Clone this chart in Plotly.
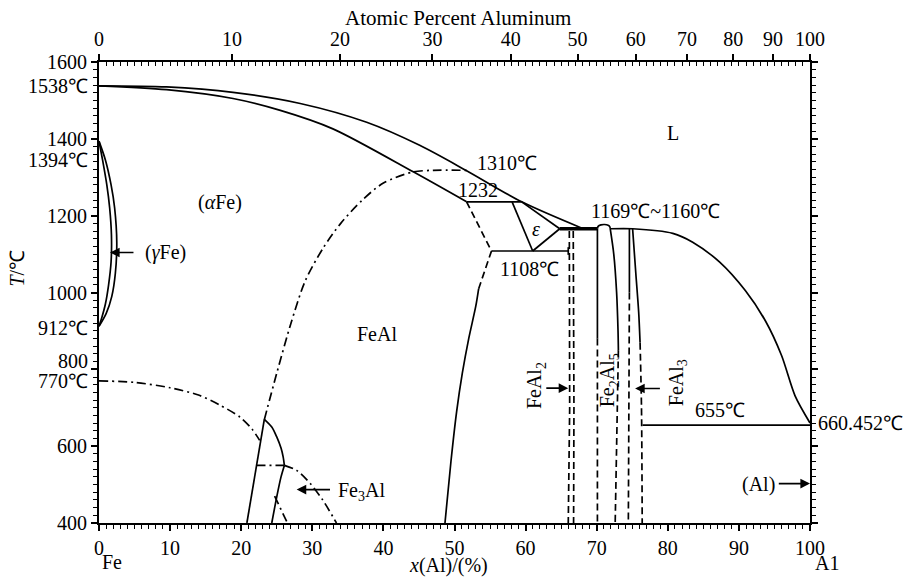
import plotly.graph_objects as go

# ---------------- data (x = Al content, %, T = temperature, °C) ----------------
liq_fe_x = [0, 9.5, 18.85, 28.3, 37.65, 45.1, 51.7, 59.45, 68.1]
liq_fe_T = [1538, 1535, 1521, 1492, 1443, 1383, 1317, 1236, 1166]

sol_fe_x = [0, 9.5, 18.85, 25.5, 32.9, 44.2, 51.7]
sol_fe_T = [1538, 1528, 1505, 1474, 1426, 1314, 1236]

liq_al_x = [71.9, 75.05, 80.7, 83.5, 87.3, 90.9, 93.7, 96.0, 97.9, 100]
liq_al_T = [1166, 1166, 1154, 1131, 1079, 1005, 927, 836, 731, 660.452]

gam_in_x = [0, 0.5, 1.1, 1.5, 1.75, 1.7, 1.35, 0.9, 0.4, 0]
gam_in_T = [1394, 1345, 1280, 1220, 1150, 1080, 1020, 970, 935, 912]
gam_out_x = [0, 0.9, 1.7, 2.2, 2.5, 2.3, 1.8, 1.0, 0]
gam_out_T = [1394, 1345, 1280, 1220, 1130, 1050, 990, 945, 912]

curie_x = [0, 5, 10, 14, 17, 19.8, 21.5, 22.6]
curie_T = [770, 766, 752, 733, 707, 676, 645, 615]

order_x = [23.25, 25.0, 27.0, 29.0, 31.5, 34.0, 37.0, 40.0, 44.2, 47.0, 51.7]
order_T = [669, 790, 920, 1030, 1115, 1180, 1240, 1285, 1314, 1318, 1318]

fe3al_left_x = [20.8, 23.25]
fe3al_left_T = [400, 670]
fe3al_dome_x = [23.25, 24.3, 25.0, 25.6, 25.9, 26.07]
fe3al_dome_T = [670, 650, 624, 595, 572, 550]
fe3al_inner_x = [26.07, 25.6, 25.0, 24.3]
fe3al_inner_T = [550, 520, 468, 400]
fe3al_tie_x = [22.15, 26.07]
fe3al_tie_T = [550, 550]
fe3al_dd_x = [26.07, 27.8, 29.7, 31.5, 33.4]
fe3al_dd_T = [550, 537, 503, 459, 400]
fe3al_short_x = [24.7, 26.5]
fe3al_short_T = [470, 400]

feal_dash_x = [51.7, 55.2, 53.4]
feal_dash_T = [1236, 1108, 1010]
feal_solid_x = [53.4, 53.0, 52.0, 51.1, 50.3, 49.5, 48.66]
feal_solid_T = [1010, 965, 880, 790, 690, 560, 400]

tie1232_x = [51.7, 59.45]
tie1232_T = [1236, 1236]
eps_left_x = [58.1, 61.0]
eps_left_T = [1236, 1108]
eps_low_x = [61.0, 64.8]
eps_low_T = [1108, 1166]
eps_up_x = [59.45, 64.8]
eps_up_T = [1236, 1166]
tie1108_x = [55.2, 66.0]
tie1108_T = [1108, 1108]
tick1108_x = [66.0, 66.0]
tick1108_T = [1118, 1098]
thick_x = [64.8, 70.1]
thick_T = [1166, 1166]

feal2_l_x = [66.15, 66.2, 66.0]
feal2_l_T = [1160, 700, 400]
feal2_r_x = [66.7, 66.8, 66.75]
feal2_r_T = [1160, 700, 400]

dome_x = [70.1, 70.2, 70.6, 71.1, 71.6, 71.85, 71.9]
dome_T = [1166, 1172, 1176, 1177, 1175, 1171, 1166]

lineA_s_x = [70.1, 70.1]
lineA_s_T = [1166, 880]
lineA_d_x = [70.1, 70.1]
lineA_d_T = [880, 400]
lineB_s_x = [71.9, 72.4, 72.8, 73.0, 73.05]
lineB_s_T = [1166, 1100, 1000, 900, 850]
lineB_d_x = [73.05, 72.9, 72.6]
lineB_d_T = [850, 700, 400]
lineC_s_x = [74.6, 74.6]
lineC_s_T = [1166, 1000]
lineC_d_x = [74.6, 74.45]
lineC_d_T = [1000, 400]
lineD_s_x = [75.05, 75.5, 75.9, 76.1]
lineD_s_T = [1166, 1050, 950, 870]
lineD_d_x = [76.1, 76.3, 76.4]
lineD_d_T = [870, 700, 400]

eut655_x = [76.45, 100]
eut655_T = [655, 655]

# top axis (weight percent) tick positions, on the at.% scale
top_tick_pos = [0, 18.7, 33.9, 46.9, 57.9, 67.3, 75.5, 82.7, 89.2, 94.8, 100]
top_tick_txt = ["0", "10", "20", "30", "40", "50", "60", "70", "80", "90", "100"]

left_tick_vals = [400, 600, 800, 1000, 1200, 1400, 1600]
left_tick_txt = ["400", "600", "", "1000", "1200", "1400", "1600"]

# ---------------- figure ----------------
FONT = "Liberation Serif"
FS = 20
fig = go.Figure()

SOLID = "solid"
DASH = "7px,4px"
DASHDOT = "9px,4px,2px,4px"


def add(xs, ts, dash=SOLID, width=1.7, xa="x", ya="y", smooth=False):
    line = dict(color="black", width=width, dash=dash)
    if smooth:
        line.update(shape="spline", smoothing=0.8)
    fig.add_trace(go.Scatter(x=xs, y=ts, mode="lines", xaxis=xa, yaxis=ya,
                             line=line, showlegend=False, hoverinfo="skip"))


add(liq_fe_x, liq_fe_T, smooth=True)
add(sol_fe_x, sol_fe_T, smooth=True)
add(liq_al_x, liq_al_T, ya="y2", smooth=True)
add(gam_in_x, gam_in_T, smooth=True)
add(gam_out_x, gam_out_T, smooth=True)
add(curie_x, curie_T, DASHDOT, smooth=True)
add(order_x, order_T, DASHDOT, smooth=True)
add(fe3al_left_x, fe3al_left_T)
add(fe3al_dome_x, fe3al_dome_T, smooth=True)
add(fe3al_inner_x, fe3al_inner_T, smooth=True)
add(fe3al_tie_x, fe3al_tie_T, DASHDOT)
add(fe3al_dd_x, fe3al_dd_T, DASHDOT, smooth=True)
add(fe3al_short_x, fe3al_short_T, DASHDOT)
add(feal_dash_x, feal_dash_T, DASH)
add(feal_solid_x, feal_solid_T, smooth=True)
add(tie1232_x, tie1232_T, xa="x3")
add(eps_left_x, eps_left_T)
add(eps_low_x, eps_low_T)
add(eps_up_x, eps_up_T)
add(tie1108_x, tie1108_T)
add(tick1108_x, tick1108_T)
add(thick_x, thick_T, width=3.5)
add(feal2_l_x, feal2_l_T, DASH)
add(feal2_r_x, feal2_r_T, DASH)
add(dome_x, dome_T, smooth=True)
add(lineA_s_x, lineA_s_T)
add(lineA_d_x, lineA_d_T, DASH)
add(lineB_s_x, lineB_s_T, smooth=True)
add(lineB_d_x, lineB_d_T, DASH, smooth=True)
add(lineC_s_x, lineC_s_T)
add(lineC_d_x, lineC_d_T, DASH)
add(lineD_s_x, lineD_s_T, smooth=True)
add(lineD_d_x, lineD_d_T, DASH, smooth=True)
add(eut655_x, eut655_T, xa="x2")

tickfont = dict(family=FONT, size=FS, color="black")

fig.update_layout(
    width=909, height=577,
    margin=dict(l=99, r=99, t=62, b=54, autoexpand=False),
    paper_bgcolor="white", plot_bgcolor="white",
    font=dict(family=FONT, size=FS, color="black"),
    xaxis=dict(range=[0, 100], side="bottom", showline=True, linewidth=2, linecolor="black",
               ticks="outside", ticklen=6, tickwidth=1.5, tickcolor="black",
               tickmode="linear", tick0=0, dtick=10,
               minor=dict(dtick=1, ticks="outside", ticklen=4, tickwidth=1, tickcolor="black"),
               showgrid=False, zeroline=False, tickfont=tickfont, automargin=False),
    xaxis2=dict(range=[0, 100], overlaying="x", side="top", anchor="y",
                showline=True, linewidth=2, linecolor="black",
                ticks="outside", ticklen=6, tickwidth=1.5, tickcolor="black",
                tickmode="array", tickvals=top_tick_pos, ticktext=top_tick_txt,
                showgrid=False, zeroline=False, tickfont=tickfont, automargin=False),
    xaxis3=dict(range=[0, 100], overlaying="x", side="top", anchor="y",
                showline=False, ticks="inside", ticklen=4, tickwidth=1, tickcolor="black",
                tickmode="linear", tick0=0, dtick=1, showticklabels=False,
                showgrid=False, zeroline=False, automargin=False),
    yaxis=dict(range=[400, 1600], showline=True, linewidth=2, linecolor="black",
               ticks="outside", ticklen=6, tickwidth=1.5, tickcolor="black",
               tickmode="array", tickvals=left_tick_vals, ticktext=left_tick_txt,
               minor=dict(tickmode="linear", tick0=400, dtick=20, ticks="outside",
                          ticklen=4, tickwidth=1, tickcolor="black"),
               showgrid=False, zeroline=False, tickfont=tickfont, automargin=False),
    yaxis2=dict(range=[400, 1600], overlaying="y", side="right", anchor="x",
                showline=True, linewidth=2, linecolor="black",
                ticks="outside", ticklen=6, tickwidth=1.5, tickcolor="black",
                tickmode="linear", tick0=400, dtick=200, showticklabels=False,
                minor=dict(tickmode="linear", tick0=400, dtick=20, ticks="outside",
                           ticklen=4, tickwidth=1, tickcolor="black"),
                showgrid=False, zeroline=False, automargin=False),
)

ann = []


def txt(x, y, s, xanchor="center", textangle=0, xref="x", yref="y", xshift=0, yshift=0, size=FS):
    ann.append(dict(x=x, y=y, text=s, showarrow=False, xref=xref, yref=yref,
                    xanchor=xanchor, yanchor="middle", textangle=textangle,
                    xshift=xshift, yshift=yshift,
                    font=dict(family=FONT, size=size, color="black")))


def arrow(x_head, y_head, x_tail, y_tail):
    ann.append(dict(x=x_head, y=y_head, ax=x_tail, ay=y_tail, xref="x", yref="y",
                    axref="x", ayref="y", text="", showarrow=True, arrowhead=2,
                    arrowsize=1.2, arrowwidth=1.6, arrowcolor="black", standoff=0))


# titles
txt(50.5, 1.0, "Atomic Percent Aluminum", yref="paper", yshift=44, size=21)
txt(49.2, 0, "<i>x</i>(Al)/(%)", yref="paper", yshift=-42)
txt(-0.115, 1063, "<i>T</i>/℃", xref="paper", textangle=-90)
txt(1.83, 0, "Fe", yref="paper", yshift=-39)
txt(100, 0, "A1", yref="paper", xanchor="left", yshift=-40, xshift=3)

# left special labels
for val, lab in [(1538, "1538℃"), (1344, "1394℃"), (907, "912℃"), (822, "800"), (769, "770℃")]:
    txt(0, val, lab, xanchor="right", xref="paper", xshift=-9)

# right label
txt(1.0, 660.452, "660.452℃", xanchor="left", xref="paper", xshift=6)

# region labels
txt(17.0, 1234, "(<i>α</i>Fe)")
txt(39.1, 893, "FeAl")
txt(80.7, 1414, "L")
txt(57.4, 1338, "1310℃")
txt(53.3, 1266, "1232")
txt(61.5, 1166, "<i>ε</i>")
txt(60.5, 1060, "1108℃")
txt(78.3, 1212, "1169℃~1160℃")
txt(87.3, 693, "655℃")
txt(6.2, 1104, "(<i>γ</i>Fe)", xanchor="left")
txt(33.4, 481, "Fe<sub>3</sub>Al", xanchor="left")
txt(92.8, 500, "(Al)")
txt(61.5, 757, "FeAl<sub>2</sub>", textangle=-90)
txt(71.7, 771, "Fe<sub>2</sub>Al<sub>5</sub>", textangle=-90)
txt(81.3, 764, "FeAl<sub>3</sub>", textangle=-90)

# arrows
arrow(1.55, 1104, 5.06, 1104)
arrow(27.8, 487, 32.7, 487)
arrow(66.0, 751, 62.7, 751)
arrow(75.4, 750, 79.1, 750)
arrow(100, 502.5, 95.4, 502.5)

fig.update_layout(annotations=ann)

fig.write_html("out.html", config={"displayModeBar": False},
               post_script="document.body.style.margin='0';document.body.style.overflow='hidden';")
